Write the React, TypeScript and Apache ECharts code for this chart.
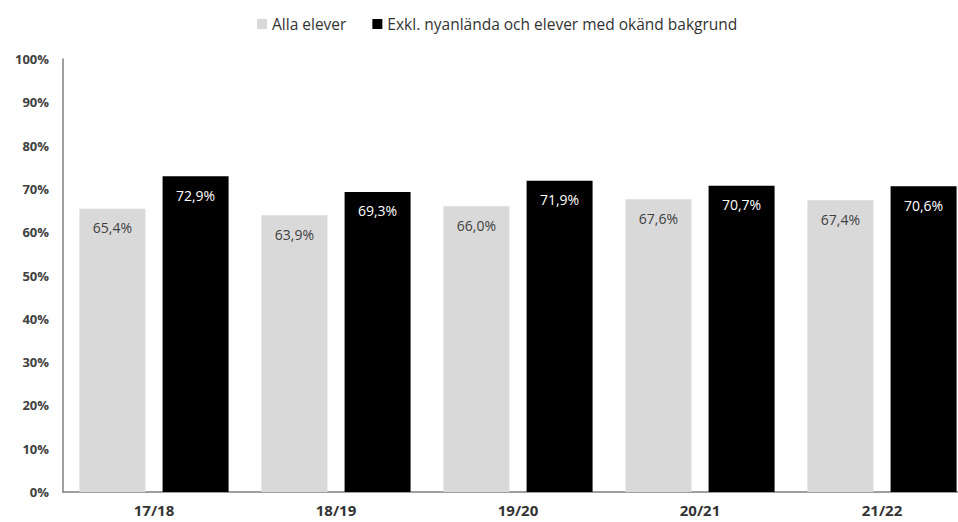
import React, { useEffect, useRef } from "react";
import * as echarts from "echarts";

const categories = ["17/18", "18/19", "19/20", "20/21", "21/22"];
const allaElever = [65.4, 63.9, 66.0, 67.6, 67.4];
const exklNyanlanda = [72.9, 69.3, 71.9, 70.7, 70.6];
const seriesNames = ["Alla elever", "Exkl. nyanlända och elever med okänd bakgrund"];

const fmt = (v: number) => v.toFixed(1).replace(".", ",") + "%";

export default function App() {
  const ref = useRef<HTMLDivElement>(null);
  useEffect(() => {
    if (!ref.current) return;
    const chart = echarts.init(ref.current, null, { renderer: "svg" });
    const font = "Open Sans";
    chart.setOption({
      animation: false,
      backgroundColor: "#ffffff",
      textStyle: { fontFamily: font },
      legend: {
        top: 11,
        left: 252,
        itemWidth: 10,
        itemHeight: 10,
        itemGap: 26,
        icon: "rect",
        textStyle: { fontFamily: font, fontSize: 15.5, color: "#333333" },
        data: seriesNames,
      },
      grid: { left: 63, right: 0, top: 59, bottom: 30, containLabel: false },
      xAxis: {
        type: "category",
        data: categories,
        axisLine: { lineStyle: { color: "#7f7f7f", width: 1.5 } },
        axisTick: { show: false },
        axisLabel: { fontFamily: font, fontSize: 15, fontWeight: "bold", color: "#333333", margin: 10 },
      },
      yAxis: {
        type: "value",
        min: 0,
        max: 100,
        interval: 10,
        axisLine: { show: true, lineStyle: { color: "#7f7f7f", width: 1.5 } },
        axisTick: { show: false },
        splitLine: { show: false },
        axisLabel: {
          fontFamily: font,
          fontSize: 13,
          fontWeight: "bold",
          color: "#404040",
          margin: 14,
          formatter: (v: number) => v + "%",
        },
      },
      series: [
        {
          name: seriesNames[0],
          type: "bar",
          data: allaElever,
          barWidth: 66,
          barGap: "26%",
          itemStyle: { color: "#d9d9d9" },
          label: {
            show: true,
            position: "insideTop",
            distance: 12,
            fontFamily: font,
            fontSize: 14,
            color: "#404040",
            formatter: (p: any) => fmt(p.value),
          },
        },
        {
          name: seriesNames[1],
          type: "bar",
          data: exklNyanlanda,
          barWidth: 66,
          barGap: "26%",
          itemStyle: { color: "#000000" },
          label: {
            show: true,
            position: "insideTop",
            distance: 12,
            fontFamily: font,
            fontSize: 14,
            color: "#ffffff",
            formatter: (p: any) => fmt(p.value),
          },
        },
      ],
    });
    return () => chart.dispose();
  }, []);
  return (
    <div style={{ position: "absolute", left: 0, top: 0, width: 958, height: 522, overflow: "hidden" }}>
      <div ref={ref} style={{ position: "absolute", left: 0, top: 0, width: 973, height: 522 }} />
    </div>
  );
}
